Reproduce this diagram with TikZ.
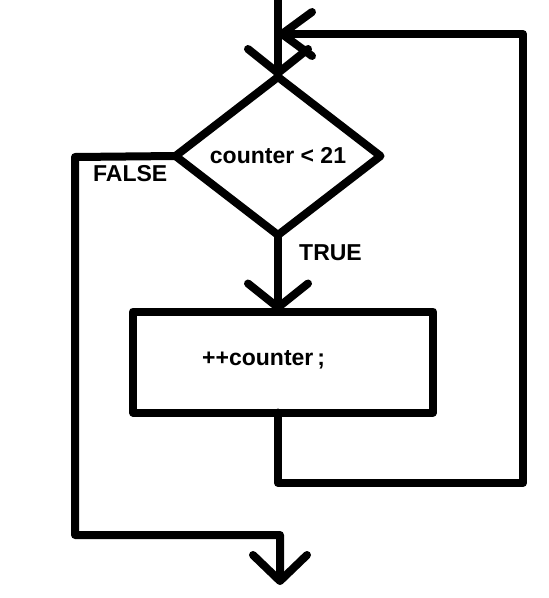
\documentclass[tikz,border=0pt]{standalone}
\usepackage{fontspec}
\setmainfont{Liberation Sans}
\usetikzlibrary{shapes.geometric,arrows.meta}
\begin{document}
\begin{tikzpicture}[x=1pt,y=-1pt,
  flow/.style={line width=8pt, line cap=round, line join=round},
  decision/.style={diamond, draw, line width=8pt, line join=round,
    inner sep=0pt, outer sep=0pt, minimum width=205pt, minimum height=158pt,
    font=\fontsize{23}{27}\selectfont\bfseries},
  process/.style={rectangle, draw, line width=8pt, line join=round,
    inner sep=0pt, outer sep=0pt, minimum width=300pt, minimum height=101pt},
  tag/.style={font=\fontsize{23}{27}\selectfont\bfseries, inner sep=0pt}
]
\useasboundingbox (0,0) rectangle (549,598);
\fill[white] (0,0) rectangle (549,598);

% condition and loop body
\node[decision] (cond) at (278,156) {counter < 21};
\node[process] (inc) at (283,362) {};
\node[tag, anchor=west] (body) at (202,360) {++counter\kern4pt;};

% branch labels
\node[tag, anchor=west] (false) at (93,174) {FALSE};
\node[tag, anchor=west] (true) at (299,253) {TRUE};

% entry, loop-back and exit points
\coordinate (entry) at (278,0);
\coordinate (back) at (278,34);
\coordinate (exit) at (280,585);

% entry into the test
\draw[flow, -{Straight Barb[length=24pt, width=60pt, round]}] (entry) -- (cond.north);

% TRUE branch into the body
\draw[flow, -{Straight Barb[length=24pt, width=60pt, round]}] (cond.south) -- (cond.south |- inc.north);

% loop back from the body to the test
\draw[flow, -{Straight Barb[length=30pt, width=44pt, round]}]
  (inc.south -| entry) -- (278,483) -- (523,483) -- (523,34) -- (back);

% FALSE branch leaves the loop
\draw[flow, -{Straight Barb[length=26pt, width=54pt, round]}]
  (cond.west) -- (75,157) -- (75,535) -- (280,535) -- (exit);
\end{tikzpicture}
\end{document}
